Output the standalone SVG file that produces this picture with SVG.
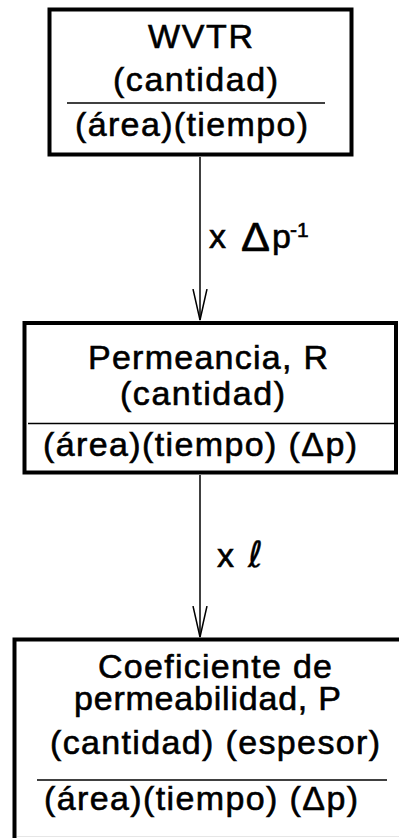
<svg xmlns="http://www.w3.org/2000/svg" width="399" height="838" viewBox="0 0 399 838">
<style>
  .box { fill: #ffffff; stroke: #000000; stroke-width: 4; }
  .div { stroke: #000000; stroke-width: 1.5; fill: none; }
  .t { font-family: "Liberation Sans", Arial, sans-serif; font-size: 34px; fill: #000000; stroke: #000000; stroke-width: 0.6; }
  .conn { stroke: #000000; stroke-width: 1.5; fill: none; }
</style>
<defs>
  <marker id="arr" viewBox="0 0 32 16" markerWidth="32" markerHeight="16" refX="31" refY="8" orient="auto" markerUnits="userSpaceOnUse">
    <path d="M0,1 L31,8 L0,15" fill="none" stroke="#000000" stroke-width="1.5"/>
  </marker>
</defs>
<rect width="399" height="838" fill="#ffffff"/>

<g id="connectors">
  <line class="conn" x1="200" y1="157" x2="200" y2="320" marker-end="url(#arr)"/>
  <line class="conn" x1="200" y1="475" x2="200" y2="637" marker-end="url(#arr)"/>
  <g id="label1">
    <text class="t" x="209" y="248">x</text>
    <text class="t" x="241" y="251" textLength="29" lengthAdjust="spacingAndGlyphs" style="font-size:40px">Δ</text>
    <text class="t" x="272" y="248">p</text>
    <text class="t" x="290" y="237" style="font-size:21px">-1</text>
  </g>
  <g id="label2">
    <text class="t" x="217" y="567">x</text>
    <text class="t" x="248" y="567" style="font-family:'DejaVu Sans',sans-serif;font-style:italic;font-size:36px;stroke-width:0.3">ℓ</text>
  </g>
</g>

<g id="node-wvtr">
  <rect class="box" x="49.5" y="9.5" width="302" height="145"/>
  <text class="t" x="148" y="48" textLength="105" lengthAdjust="spacing">WVTR</text>
  <text class="t" x="113" y="91" textLength="165" lengthAdjust="spacing">(cantidad)</text>
  <line class="div" x1="67" y1="103" x2="325" y2="103"/>
  <text class="t" x="75" y="136" textLength="233" lengthAdjust="spacing">(área)(tiempo)</text>
</g>

<g id="node-permeancia">
  <rect class="box" x="24.5" y="323" width="371.5" height="149.5"/>
  <text class="t" x="88" y="369" textLength="240" lengthAdjust="spacing">Permeancia, R</text>
  <text class="t" x="120" y="405" textLength="165" lengthAdjust="spacing">(cantidad)</text>
  <line class="div" x1="28" y1="423.5" x2="394" y2="423.5"/>
  <text class="t" x="43" y="456" textLength="314" lengthAdjust="spacing">(área)(tiempo) (Δp)</text>
</g>

<g id="node-coeficiente">
  <rect class="box" x="14.5" y="639.5" width="420" height="230"/>
  <text class="t" x="98" y="678" textLength="234" lengthAdjust="spacing">Coeficiente de</text>
  <text class="t" x="74" y="710" textLength="267" lengthAdjust="spacing">permeabilidad, P</text>
  <text class="t" x="50" y="754" textLength="330" lengthAdjust="spacing">(cantidad) (espesor)</text>
  <line class="div" x1="37" y1="780" x2="387" y2="780"/>
  <text class="t" x="44" y="810" textLength="314" lengthAdjust="spacing">(área)(tiempo) (Δp)</text>
  <line x1="17" y1="836.5" x2="399" y2="836.5" stroke="#e6e6e6" stroke-width="1"/>
</g>
</svg>
